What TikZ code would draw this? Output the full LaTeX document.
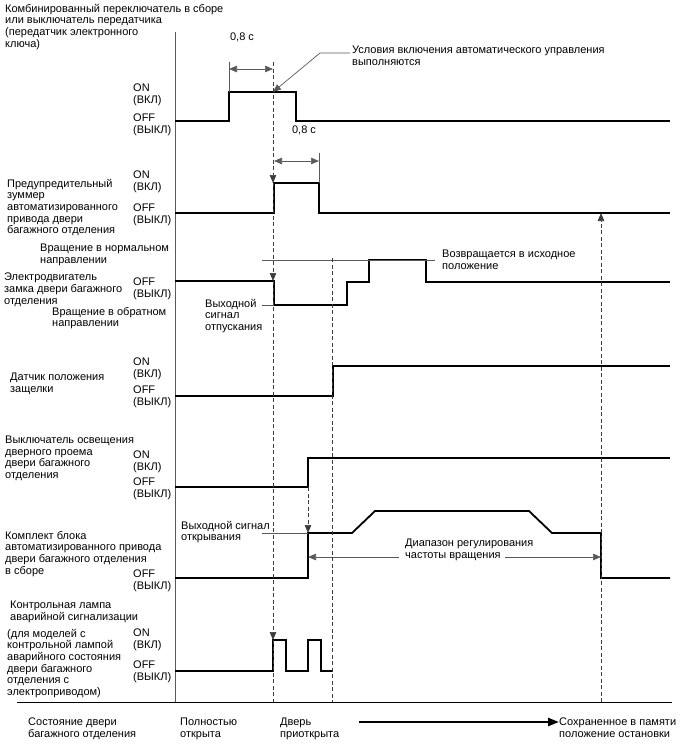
\documentclass[tikz,border=0pt]{standalone}
\usepackage{fontspec}
\setmainfont{Liberation Sans}
\usetikzlibrary{arrows.meta,positioning,calc}
\definecolor{GuideGray}{HTML}{5A5A5A}
\definecolor{DashGray}{HTML}{3C3C3C}

\begin{document}
\begin{tikzpicture}[x=1pt,y=-1pt,
  lbl/.style={font=\fontsize{11}{11.6}\selectfont,inner sep=0pt,align=left,anchor=north west},
  sig/.style={line width=1.8pt},
  guide/.style={GuideGray,line width=0.7pt},
  timedash/.style={DashGray,line width=0.7pt,dash pattern=on 4pt off 2.5pt},
  hit/.style={-{Triangle[length=8pt,width=6.5pt]}},
  dimarr/.style={guide,{Triangle[length=8pt,width=6.5pt]}-{Triangle[length=8pt,width=6.5pt]}}]
  \useasboundingbox (0,0) rectangle (688,755);

  % frame
  \draw[GuideGray,line width=0.9pt] (175,32) -- (175,702);
  \draw[line width=0.8pt] (17,702) -- (672,702);

  % switch
  \node[lbl] (sw) at (5,4) {Комбинированный переключатель в сборе\\или выключатель передатчика\\(передатчик электронного\\ключа)};
  \node[lbl] (swon) at (133,84) {ON\\(ВКЛ)};
  \node[lbl] (swoff) at (133,114) {OFF\\(ВЫКЛ)};
  \draw[sig] (175,121) -- (229,121) -- (229,92) -- (296,92) -- (296,121) -- (670,121);
  \coordinate (dimAl) at (229,69);
  \coordinate (dimAr) at (273,69);
  \draw[guide] (229,62) -- (229,92);
  \draw[dimarr] (dimAl) -- (dimAr);
  \node[lbl,anchor=base] (tA) at (242,40) {0,8 с};
  \node[lbl,anchor=base] (tB) at (304,133) {0,8 с};
  \node[lbl] (cond) at (352,46) {Условия включения автоматического управления\\выполняются};
  \coordinate (condkink) at (320,53);
  \coordinate (condhit) at (273,92);
  \draw[guide,hit] ($(cond.north west)+(-2,7)$) -- (condkink) -- (condhit);

  % buzzer
  \node[lbl] (bz) at (7,179) {Предупредительный\\зуммер\\автоматизированного\\привода двери\\багажного отделения};
  \node[lbl] (bzon) at (133,171) {ON\\(ВКЛ)};
  \node[lbl] (bzoff) at (133,204) {OFF\\(ВЫКЛ)};
  \draw[sig] (175,213) -- (274,213) -- (274,183) -- (319,183) -- (319,213) -- (670,213);
  \coordinate (dimBl) at (274,161);
  \coordinate (dimBr) at (319,161);
  \draw[guide] (319,153) -- (319,183);
  \draw[dimarr] (dimBl) -- (dimBr);

  % lock motor
  \node[lbl] (fwd) at (40,244) {Вращение в нормальном\\направлении};
  \node[lbl] (mot) at (4,273) {Электродвигатель\\замка двери багажного\\отделения};
  \node[lbl] (motoff) at (133,278) {OFF\\(ВЫКЛ)};
  \node[lbl] (rev) at (52,307) {Вращение в обратном\\направлении};
  \draw[sig] (175,281) -- (274,281) -- (274,305) -- (347,305) -- (347,282) -- (369,282)
    -- (369,260) -- (426,260) -- (426,282) -- (670,282);
  \coordinate (fwdl) at (262,260);
  \coordinate (fwdr) at (435,260);
  \draw[guide] (fwdl) -- (fwdr);
  \node[lbl] (back) at (442,250) {Возвращается в исходное\\положение};
  \node[lbl] (rel) at (205,299) {Выходной\\сигнал\\отпускания};
  \coordinate (relfoot) at (262,305);
  \coordinate (relhit) at (274,305);
  \draw[guide] (relfoot) -- (relhit);

  % latch sensor
  \node[lbl] (latch) at (10,373) {Датчик положения\\защелки};
  \node[lbl] (laon) at (133,358) {ON\\(ВКЛ)};
  \node[lbl] (laoff) at (133,386) {OFF\\(ВЫКЛ)};
  \draw[sig] (175,396) -- (333,396) -- (333,366) -- (670,366);

  % courtesy switch
  \node[lbl] (door) at (5,436) {Выключатель освещения\\дверного проема\\двери багажного\\отделения};
  \node[lbl] (dron) at (133,451) {ON\\(ВКЛ)};
  \node[lbl] (droff) at (133,478) {OFF\\(ВЫКЛ)};
  \draw[sig] (175,487) -- (308,487) -- (308,458) -- (670,458);

  % power unit
  \node[lbl] (pu) at (5,531) {Комплект блока\\автоматизированного привода\\двери багажного отделения\\в сборе};
  \node[lbl] (puoff) at (133,570) {OFF\\(ВЫКЛ)};
  \draw[sig] (175,578) -- (308,578) -- (308,533) -- (352,533) -- (375,511) -- (529,511)
    -- (552,533) -- (601,533) -- (601,578) -- (670,578);
  \node[lbl] (open) at (181,521) {Выходной сигнал\\открывания};
  \coordinate (openfoot) at (262,533);
  \coordinate (openhit) at (308,533);
  \draw[guide] (openfoot) -- (openhit);
  \node[lbl] (range) at (405,539) {Диапазон регулирования\\частоты вращения};
  \coordinate (rangeL) at (308,557);
  \coordinate (rangeR) at (601,557);
  \draw[guide,{Triangle[length=8pt,width=6.5pt]}-] (rangeL) -- ($(range.west|-rangeL)+(-6,0)$);
  \draw[guide,hit] ($(range.west|-rangeL)+(100,0)$) -- (rangeR);

  % hazard lamp
  \node[lbl] (haz) at (10,601) {Контрольная лампа\\аварийной сигнализации};
  \node[lbl] (hazm) at (7,629) {(для моделей с\\контрольной лампой\\аварийного состояния\\двери багажного\\отделения с\\электроприводом)};
  \node[lbl] (hzon) at (133,629) {ON\\(ВКЛ)};
  \node[lbl] (hzoff) at (133,661) {OFF\\(ВЫКЛ)};
  \draw[sig] (175,671) -- (273,671) -- (273,640) -- (286,640) -- (286,671) -- (308,671)
    -- (308,640) -- (321,640) -- (321,671) -- (332,671);

  % timing lines
  \coordinate (t1top) at (273,62);
  \coordinate (t1bz) at (273,183);
  \coordinate (t1mot) at (273,281);
  \coordinate (t1hz) at (273,640);
  \coordinate (t1end) at (273,702);
  \draw[timedash,hit] (t1top) -- (t1bz);
  \draw[timedash,hit] (t1bz) -- (t1mot);
  \draw[timedash,hit] (t1mot) -- (t1hz);
  \draw[timedash] (t1hz) -- (t1end);
  \draw[timedash,hit] (308,487) -- (308,533);
  \draw[timedash] (332,258) -- (332,702);
  \draw[timedash,hit] (601,702) -- (601,213);

  % door state
  \node[lbl] (state) at (28,718) {Состояние двери\\багажного отделения};
  \node[lbl] (full) at (180,718) {Полностью\\открыта};
  \node[lbl] (ajar) at (280,718) {Дверь\\приоткрыта};
  \node[lbl] (stop) at (559,718) {Сохраненное в памяти\\положение остановки};
  \draw[line width=2.4pt,-{Triangle[length=11pt,width=8pt]}] (359,722) -- (stop.west|-359,722);
\end{tikzpicture}
\end{document}
